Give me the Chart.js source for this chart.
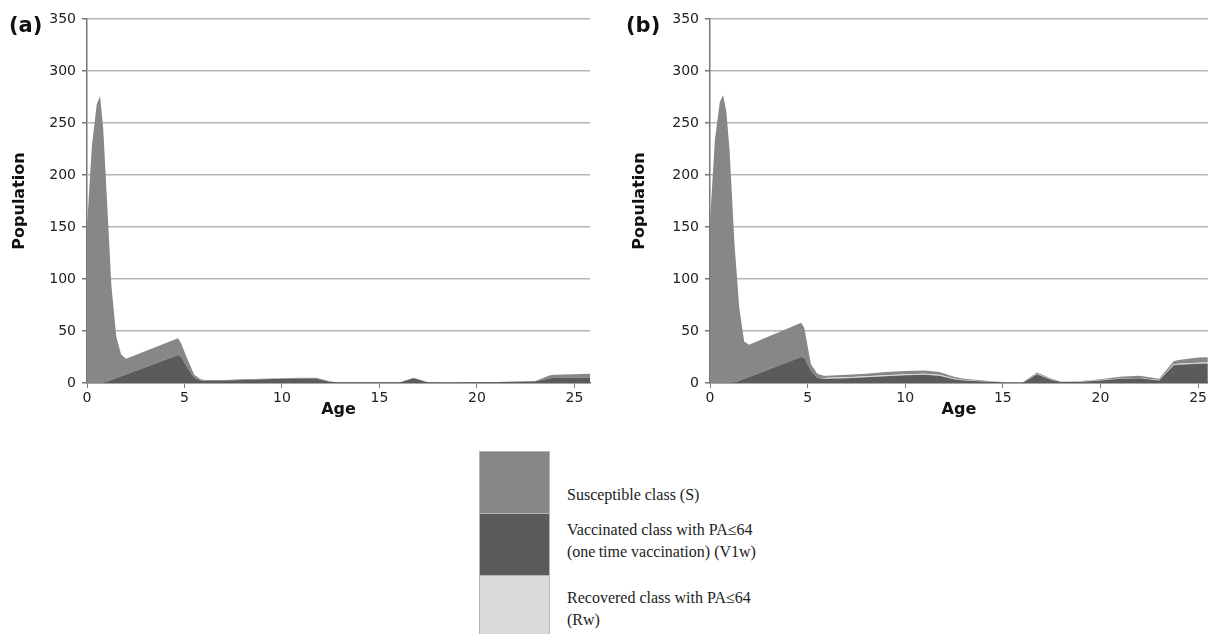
<!DOCTYPE html>
<html>
<head>
<meta charset="utf-8">
<script src="https://cdn.jsdelivr.net/npm/chart.js@4.4.1/dist/chart.umd.min.js"></script>
<style>
  body { margin: 0; width: 1209px; height: 634px; background: #fff; overflow: hidden; position: relative; font-family: "DejaVu Sans", Verdana, sans-serif; }
  canvas { position: absolute; top: 0; }
  #chartA { left: 0; }
  #chartB { left: 620px; }
  .tag { position: absolute; top: 13px; font-weight: bold; font-size: 21px; color: #111; }
  #legend { position: absolute; left: 479px; top: 451px; }
  .swatch { position: absolute; left: 0; width: 69px; height: 61px; border: 1px solid #b5b5b5; }
  .ltext { position: absolute; left: 88px; white-space: nowrap; font-family: "Liberation Serif", "Times New Roman", serif; font-size: 16px; line-height: 22px; color: #222; }
</style>
</head>
<body>
<canvas id="chartA" width="600" height="430"></canvas>
<canvas id="chartB" width="589" height="430"></canvas>
<div class="tag" style="left:9px">(a)</div>
<div class="tag" style="left:626px">(b)</div>
<div id="legend"></div>
<script>
// 年龄（横轴）
const ages = [0, 0.25, 0.5, 0.67, 0.83, 1, 1.25, 1.5, 1.75, 2, 4.67, 4.83, 5.17, 5.5, 5.83,
  6, 7, 8, 9, 10, 11, 11.75, 12.5, 13, 14, 15, 16, 16.75, 17.5, 18, 19, 20, 21, 22, 23,
  23.75, 24, 25, 25.8];

// 图 (a)
const vaccA = [0, 0, 0, 0, 0, 1.2, 3, 4.7, 6.5, 8.2, 27, 25, 14, 5, 2.5,
  2.2, 2.5, 3, 3.5, 4, 4.2, 4.2, 1, 0.3, 0.2, 0.2, 0.3, 4.5, 0.5, 0.3, 0.3, 0.4, 0.7, 1.2, 1.6,
  4.5, 5, 5, 5];
const recA = [0, 0, 0, 0, 0, 0, 0, 0, 0, 0, 0, 0, 0, 0, 0,
  0, 0, 0, 0, 0, 0, 0, 0, 0, 0, 0, 0, 0, 0, 0, 0, 0, 0, 0, 0,
  0, 0, 0, 0];
const suscA = [150, 228, 268, 276, 245, 184, 91, 40, 21, 15, 16, 13, 8, 3, 1,
  0.8, 0.5, 0.5, 0.5, 0.5, 0.8, 0.8, 0.5, 0.2, 0.1, 0.1, 0.2, 0.5, 0.3, 0.2, 0.2, 0.2, 0.3, 0.3, 0.4,
  3, 3, 3.5, 4];

// 图 (b)
const vaccB = [0, 0, 0, 0, 0, 0, 0.4, 2.2, 4, 5.7, 25, 24, 12, 5, 4,
  4, 4.5, 5.5, 6.5, 7.5, 8, 7, 3.5, 2.5, 1.5, 0.6, 0.3, 8.5, 3, 1, 1.3, 2.5, 4, 4.5, 2.5,
  17, 17.5, 18.5, 19];
const recB = [0, 0, 0, 0, 0, 0, 0, 0, 0, 0, 0, 0, 0, 0, 0.5,
  1, 1, 1, 1, 1, 1, 1, 0.8, 0.5, 0.3, 0.2, 0.2, 0.5, 0.3, 0.3, 0.3, 0.3, 0.3, 0.3, 0.3,
  1, 1, 1, 1];
const suscB = [155, 234, 270, 277, 262, 225, 134.5, 70, 36, 31, 33, 29, 6, 4, 2.5,
  2, 2.5, 2.5, 3, 3, 3, 2.5, 1.7, 1, 0.7, 0.2, 0, 1, 0.7, 0.2, 0.4, 0.7, 1.7, 2.2, 1.2,
  3, 3.5, 5, 5];

const yTicks = [0, 50, 100, 150, 200, 250, 300, 350];
const xTicks = [0, 5, 10, 15, 20, 25];

const legendLabels = [
  ['Susceptible class (S)'],
  ['Vaccinated class with PA\u226464', '(one\u2009time vaccination) (V1w)'],
  ['Recovered class with PA\u226464', '(Rw)']
];
const colors = { susc: '#878787', vacc: '#5b5b5b', rec: '#d9d9d9' };

function toPoints(values) {
  return ages.map((a, i) => ({ x: a, y: values[i] }));
}

// 画一个堆叠面积图
function drawPanel(id, vacc, rec, susc, xMax, axisWidth, padRight) {
  const ctx = document.getElementById(id).getContext('2d');
  const area = (label, values, color, fill) => ({
    label: label,
    data: toPoints(values),
    backgroundColor: color,
    borderWidth: 0,
    pointRadius: 0,
    tension: 0,
    fill: fill
  });
  return new Chart(ctx, {
    type: 'line',
    data: {
      datasets: [
        area('V1w', vacc, colors.vacc, 'origin'),
        area('Rw', rec, colors.rec, '-1'),
        area('S', susc, colors.susc, '-1')
      ]
    },
    options: {
      responsive: false,
      animation: false,
      layout: { padding: { top: 19, right: padRight, left: 0, bottom: 0 } },
      plugins: { legend: { display: false }, tooltip: { enabled: false } },
      scales: {
        x: {
          type: 'linear',
          min: 0,
          max: xMax,
          afterFit: s => { s.height = 47; },
          afterBuildTicks: s => { s.ticks = xTicks.map(v => ({ value: v })); },
          grid: { drawOnChartArea: false, drawTicks: true, tickLength: 5, tickColor: '#777' },
          border: { color: '#777', width: 1.5 },
          ticks: { color: '#222', padding: 2, font: { family: 'DejaVu Sans', size: 14 } },
          title: { display: true, text: 'Age', color: '#111', padding: { top: 0, bottom: 11 },
            font: { family: 'DejaVu Sans', size: 16, weight: 'bold' } }
        },
        y: {
          stacked: true,
          min: 0,
          max: 350,
          afterFit: s => { s.width = axisWidth; },
          afterBuildTicks: s => { s.ticks = yTicks.map(v => ({ value: v })); },
          grid: { color: '#b5b5b5', lineWidth: 1.5, tickLength: 5, tickColor: '#777' },
          border: { color: '#777', width: 1.5 },
          ticks: { color: '#222', padding: 6, font: { family: 'DejaVu Sans', size: 14 } },
          title: { display: true, text: 'Population', color: '#111', padding: { top: 10, bottom: 0 },
            font: { family: 'DejaVu Sans', size: 16, weight: 'bold' } }
        }
      }
    }
  });
}

drawPanel('chartA', vaccA, recA, suscA, 25.8, 87, 10);
drawPanel('chartB', vaccB, recB, suscB, 25.5, 90, 0);

// 图例
const legend = document.getElementById('legend');
const swatchColors = [colors.susc, colors.vacc, colors.rec];
const textTops = [33, 68, 136];
legendLabels.forEach((lines, i) => {
  const sw = document.createElement('div');
  sw.className = 'swatch';
  sw.style.top = (i * 62) + 'px';
  sw.style.background = swatchColors[i];
  legend.appendChild(sw);
  const txt = document.createElement('div');
  txt.className = 'ltext';
  txt.style.top = textTops[i] + 'px';
  txt.innerHTML = lines.join('<br>');
  legend.appendChild(txt);
});
</script>
</body>
</html>
